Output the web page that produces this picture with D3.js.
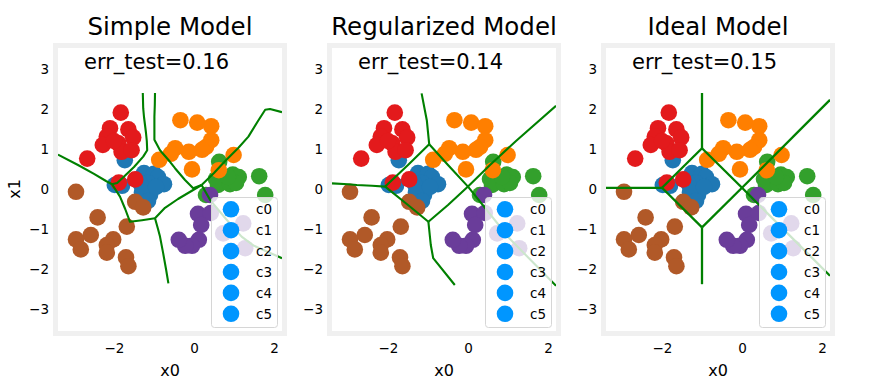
<!DOCTYPE html>
<html><head><meta charset="utf-8">
<script src="https://cdn.jsdelivr.net/npm/d3@7"></script>
<style>
body{margin:0;background:#fff;}
text{font-family:"DejaVu Sans",sans-serif;fill:#000;}
</style></head>
<body><svg id="chart" width="883" height="383"></svg>
<script>
const titles = ["Simple Model", "Regularized Model", "Ideal Model"];
const errTest = ["0.16", "0.14", "0.15"];
const xTicks = [-2, 0, 2];
const yTicks = [-3, -2, -1, 0, 1, 2, 3];
const classNames = ["c0", "c1", "c2", "c3", "c4", "c5"];
const classColors = ["#1f78b4", "#33a02c", "#ff7f00", "#6a3d9a", "#e31a1c", "#b15928"];
const legendColor = "#0096ff";

const c0Points = [[-1.73,0.72],[-1.98,0.1],[-1.8,0.08],[-1.25,0.4],[-1.0,0.38],[-0.9,0.3],[-0.75,0.12],[-1.15,0.15],[-1.35,0.15],[-1.1,-0.15],[-1.3,-0.08],[-0.95,0.05],[-1.15,-0.3]];
const c1Points = [[0.63,0.68],[0.97,0.36],[1.12,0.3],[1.63,0.32],[0.55,0.25],[0.75,0.2],[0.6,0.1],[0.9,0.12],[1.05,0.15],[0.3,-0.15],[1.78,-0.15],[0.85,0.3]];
const c2Points = [[-0.34,1.72],[0.08,1.66],[0.43,1.57],[0.43,1.22],[0.3,1.05],[0.2,0.98],[-0.13,0.93],[-0.47,1.02],[-0.58,0.88],[-0.87,0.73],[-0.05,0.49],[0.99,0.85],[0.62,0.47]];
const c3Points = [[0.4,-0.15],[0.1,-0.62],[0.42,-0.6],[0.18,-0.9],[0.12,-1.27],[-0.05,-1.42],[-0.22,-1.42],[-0.38,-1.27],[0.73,-1.11],[1.23,-0.86],[1.28,-1.48]];
const c4Points = [[-1.83,1.91],[-2.1,1.52],[-1.64,1.49],[-2.18,1.31],[-1.52,1.29],[-2.28,1.1],[-1.89,1.14],[-1.81,0.93],[-1.56,0.97],[-2.67,0.76],[-1.88,0.16],[-1.47,0.24],[-2.0,1.2]];
const c5Points = [[-2.95,-0.07],[-1.47,-0.32],[-1.27,-0.46],[-2.41,-0.71],[-1.68,-0.94],[-2.58,-1.15],[-2.95,-1.26],[-2.83,-1.51],[-2.02,-1.26],[-2.18,-1.4],[-2.18,-1.59],[-1.7,-1.71],[-1.64,-1.93]];
const classPoints = [c0Points, c1Points, c2Points, c3Points, c4Points, c5Points];

const simpleBoundary = [
  [[-3.4,0.86],[-2.9,0.6],[-2.5,0.38],[-2.2,0.2],[-2.05,0.12]],
  [[-2.05,0.12],[-1.92,0.15],[-1.8,0.26],[-1.5,0.55],[-1.27,0.81],[-1.17,0.97],[-1.18,1.2],[-1.2,1.4],[-1.25,1.8],[-1.27,2.02],[-1.28,2.4]],
  [[-0.975,2.4],[-0.98,2.1],[-0.99,1.81],[-0.99,1.23],[-0.85,0.97],[-0.6,0.68],[-0.475,0.52],[-0.225,0.225],[-0.02,0.02],[0.19,0.1]],
  [[0.19,0.1],[0.5,0.4],[0.78,0.7],[1.1,1.02],[1.36,1.31],[1.6,1.7],[1.78,1.98],[1.9,2.0],[2.2,1.92]],
  [[0.19,0.1],[0.4,-0.27],[0.8,-0.75],[1.19,-1.19],[1.5,-1.42],[2.2,-1.73]],
  [[0.19,0.1],[-0.4,-0.25],[-0.725,-0.47],[-0.975,-0.73]],
  [[-2.05,0.12],[-1.85,-0.19],[-1.72,-0.5],[-1.6,-0.82],[-1.3,-0.78],[-0.975,-0.73]],
  [[-0.975,-0.73],[-0.9,-1.0],[-0.85,-1.19],[-0.77,-1.61],[-0.7,-2.0],[-0.64,-2.36]]
];
const regularizedBoundary = [
  [[-3.4,0.14],[-3.0,0.12],[-2.78,0.1],[-2.4,0.08],[-2.07,0.06]],
  [[-2.07,0.06],[-1.5,0.6],[-0.97,1.12]],
  [[-0.97,1.12],[-1.03,1.72],[-1.16,2.39]],
  [[-0.97,1.12],[-0.5,0.6],[0.0,0.06]],
  [[0.0,0.06],[0.55,0.6],[1.2,1.2],[2.2,2.08]],
  [[0.0,0.06],[1.05,-1.25],[2.2,-2.42]],
  [[0.0,0.06],[-0.5,-0.4],[-0.99,-0.82]],
  [[-0.99,-0.82],[-1.5,-0.4],[-2.07,0.06]],
  [[-0.99,-0.82],[-0.93,-1.4],[-0.87,-1.73],[-0.33,-2.4]]
];
const idealBoundary = [
  [[-3.4,0.03],[-2.0,0.03]],
  [[-2.0,0.03],[-1.0,1.02]],
  [[-1.0,1.02],[-1.0,2.4]],
  [[-1.0,1.02],[0.0,0.03]],
  [[0.0,0.03],[2.2,2.23]],
  [[0.0,0.03],[2.2,-2.17]],
  [[0.0,0.03],[-1.0,-0.96]],
  [[-1.0,-0.96],[-2.0,0.03]],
  [[-1.0,-0.96],[-1.0,-2.38]]
];
const boundaries = [simpleBoundary, regularizedBoundary, idealBoundary];

const svg = d3.select("#chart");
const panelW = 224, panelH = 283, panelTop = 48, panelStep = 274, firstLeft = 58;
const xDomain = [-3.4, 2.2], yDomain = [-3.55, 3.525];
const fmt = v => v < 0 ? "\u2212" + Math.abs(v) : String(v);

titles.forEach((title, i) => {
  const left = firstLeft + i * panelStep;
  const x = d3.scaleLinear().domain(xDomain).range([left, left + panelW]);
  const y = d3.scaleLinear().domain(yDomain).range([panelTop + panelH, panelTop]);
  const g = svg.append("g");
  const clipId = "clip" + i;
  svg.append("clipPath").attr("id", clipId).append("rect")
    .attr("x", left).attr("y", panelTop).attr("width", panelW).attr("height", panelH);

  g.append("rect").attr("x", left - 2.5).attr("y", panelTop - 2.5)
    .attr("width", panelW + 5).attr("height", panelH + 5)
    .attr("fill", "#fff").attr("stroke", "#f0f0f0").attr("stroke-width", 5);

  const inner = g.append("g").attr("clip-path", `url(#${clipId})`);
  const r = 8.3;
  classPoints.forEach((pts, k) => {
    inner.append("g").selectAll("circle").data(pts).join("circle")
      .attr("cx", d => x(d[0])).attr("cy", d => y(d[1])).attr("r", r)
      .attr("fill", classColors[k]);
  });
  const line = d3.line().x(d => x(d[0])).y(d => y(d[1]));
  inner.append("g").selectAll("path").data(boundaries[i]).join("path")
    .attr("d", line).attr("fill", "none").attr("stroke", "#008000")
    .attr("stroke-width", i === 2 ? 2.3 : 2.1).attr("stroke-linejoin", "round");

  g.append("text").attr("x", x(-2.75)).attr("y", y(3.0))
    .attr("font-size", 21).text("err_test=" + errTest[i]);

  const ax = d3.axisBottom(x).tickValues(xTicks).tickFormat(fmt).tickSize(0).tickPadding(7);
  const axG = svg.append("g").attr("transform", `translate(0,${panelTop + panelH + 5})`).call(ax);
  axG.select(".domain").remove();
  axG.selectAll("text").attr("font-size", 13.5).attr("font-family", "DejaVu Sans");
  const ay = d3.axisLeft(y).tickValues(yTicks).tickFormat(fmt).tickSize(0).tickPadding(4);
  const ayG = svg.append("g").attr("transform", `translate(${left - 5},0)`).call(ay);
  ayG.select(".domain").remove();
  ayG.selectAll("text").attr("font-size", 13.5).attr("font-family", "DejaVu Sans");

  svg.append("text").attr("x", left + panelW / 2).attr("y", 35)
    .attr("text-anchor", "middle").attr("font-size", 24.5).text(title);
  svg.append("text").attr("x", left + panelW / 2).attr("y", 376)
    .attr("text-anchor", "middle").attr("font-size", 16).text("x0");
  if (i === 0) {
    svg.append("text").attr("transform", `translate(20,${y(0)}) rotate(-90)`)
      .attr("text-anchor", "middle").attr("font-size", 16).text("x1");
  }

  const lg = svg.append("g");
  const lx = left + panelW - 5 - 66, ly = panelTop + panelH - 4 - 130;
  lg.append("rect").attr("x", lx + 0.5).attr("y", ly + 0.5).attr("width", 66).attr("height", 130)
    .attr("rx", 3).attr("fill", "rgba(255,255,255,0.8)").attr("stroke", "#d6d6d6").attr("stroke-width", 1);
  classNames.forEach((name, k) => {
    const cy = ly + 12.3 + k * 20.9;
    lg.append("circle").attr("cx", lx + 20).attr("cy", cy).attr("r", 8.3).attr("fill", legendColor);
    lg.append("text").attr("x", lx + 45).attr("y", cy).attr("dy", "0.36em")
      .attr("font-size", 13.5).text(name);
  });
});
</script></body></html>
